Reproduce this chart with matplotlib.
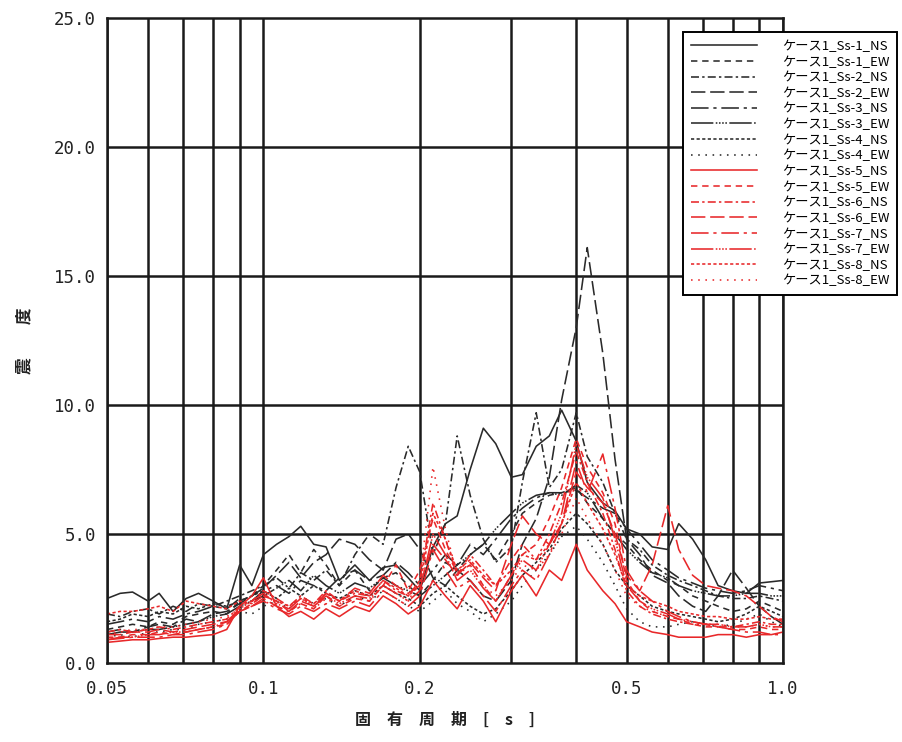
import matplotlib
matplotlib.use("Agg")
import matplotlib.pyplot as plt

plt.rcParams['font.family'] = ['Noto Sans CJK JP', 'DejaVu Sans']

periods = [0.050, 0.053, 0.056, 0.060, 0.063, 0.067, 0.071, 0.075, 0.080, 0.085,
           0.090, 0.095, 0.100, 0.106, 0.112, 0.118, 0.125, 0.132, 0.140, 0.150,
           0.160, 0.170, 0.180, 0.190, 0.200, 0.212, 0.224, 0.236, 0.250, 0.265,
           0.280, 0.300, 0.315, 0.335, 0.355, 0.375, 0.400, 0.420, 0.450, 0.475,
           0.500, 0.530, 0.560, 0.600, 0.630, 0.670, 0.710, 0.750, 0.800, 0.850,
           0.900, 0.950, 1.000]

ss1_ns = [2.5, 2.7, 2.75, 2.4, 2.7, 2.0, 2.5, 2.7, 2.4, 2.1, 3.8, 3.0, 4.2, 4.6, 4.9, 5.3, 4.6, 4.5, 3.2, 3.8,
          3.2, 3.7, 3.8, 3.3, 2.8, 4.5, 5.4, 5.7, 7.5, 9.1, 8.5, 7.2, 7.3, 8.4, 8.8, 9.8, 8.6, 7.0, 6.2, 5.9,
          5.2, 5.0, 4.5, 4.4, 5.4, 4.8, 4.0, 3.0, 2.8, 2.7, 3.1, 3.15, 3.2]
ss1_ew = [1.3, 1.4, 1.5, 1.4, 1.6, 1.5, 1.8, 1.9, 2.0, 1.9, 2.4, 2.6, 3.0, 3.6, 4.2, 3.5, 4.4, 3.8, 3.0, 3.6,
          2.8, 3.3, 3.5, 3.0, 2.6, 3.2, 3.9, 3.6, 4.2, 4.6, 4.0, 5.0, 5.8, 6.2, 6.5, 6.6, 6.8, 6.2, 5.6, 5.0,
          4.6, 4.0, 3.6, 3.2, 3.0, 2.6, 2.4, 2.2, 2.0, 2.1, 2.4, 2.2, 2.0]
ss2_ns = [1.9, 1.8, 2.0, 2.1, 1.9, 2.2, 2.0, 2.3, 2.2, 2.4, 2.6, 2.8, 3.0, 3.3, 2.9, 3.5, 3.2, 3.6, 3.0, 4.2,
          5.0, 4.6, 6.8, 8.4, 7.4, 4.2, 5.4, 8.8, 6.5, 4.8, 3.9, 4.5, 7.0, 9.7, 6.8, 7.5, 9.7, 8.0, 7.0, 5.8,
          4.8, 4.4, 3.8, 3.4, 3.2, 3.0, 2.8, 2.6, 2.5, 2.5, 2.6, 2.5, 2.4]
ss2_ew = [1.2, 1.3, 1.2, 1.4, 1.5, 1.4, 1.7, 1.6, 1.9, 2.0, 2.3, 2.6, 2.9, 3.4, 3.9, 3.3, 3.9, 4.2, 4.8, 4.6,
          4.0, 3.6, 4.8, 5.0, 4.4, 3.3, 3.0, 3.6, 3.2, 2.6, 2.4, 3.2, 4.6, 5.6, 7.2, 10.2, 13.0, 16.1, 12.0, 7.9,
          4.8, 4.2, 3.4, 3.1, 2.6, 2.2, 2.0, 2.6, 3.6, 2.9, 2.2, 1.8, 1.5]
ss3_ns = [1.5, 1.6, 1.7, 1.6, 1.8, 1.7, 1.9, 2.0, 2.2, 2.1, 2.5, 2.4, 2.8, 3.0, 2.7, 3.2, 3.0, 2.8, 3.3, 3.6,
          3.2, 3.4, 3.9, 3.5, 3.0, 3.6, 4.2, 3.8, 4.6, 4.2, 4.8, 5.6, 6.0, 6.4, 6.6, 6.6, 6.7, 6.4, 6.0, 5.8,
          5.2, 4.6, 4.0, 3.6, 3.3, 3.1, 2.9, 2.8, 2.7, 2.8, 3.0, 2.9, 2.8]
ss3_ew = [1.1, 1.2, 1.2, 1.3, 1.3, 1.4, 1.5, 1.6, 1.8, 1.9, 2.2, 2.4, 2.6, 2.9, 3.2, 2.8, 3.4, 3.0, 2.7, 3.1,
          2.9, 3.3, 3.0, 2.8, 2.6, 3.0, 3.4, 3.8, 4.2, 4.6, 5.2, 5.8, 6.2, 6.5, 6.6, 6.5, 6.9, 6.6, 5.6, 5.0,
          4.4, 3.9, 3.5, 3.3, 3.0, 2.8, 2.7, 2.6, 2.6, 2.7, 2.7, 2.6, 2.6]
ss4_ns = [1.6, 1.7, 1.9, 1.8, 2.0, 1.9, 2.2, 2.1, 2.3, 2.2, 2.4, 2.6, 2.8, 2.5, 2.9, 2.6, 3.0, 2.7, 2.5, 2.8,
          2.6, 3.0, 2.7, 2.5, 2.2, 2.7, 3.0, 2.6, 2.2, 1.9, 2.1, 2.8, 3.4, 3.9, 4.4, 5.2, 5.8, 5.4, 4.6, 3.6,
          3.0, 2.6, 2.2, 2.0, 1.9, 1.8, 1.7, 1.6, 1.7, 1.9, 2.2, 2.0, 1.8]
ss4_ew = [1.0, 1.1, 1.0, 1.2, 1.2, 1.3, 1.3, 1.5, 1.6, 1.7, 2.0, 1.9, 2.2, 2.4, 2.1, 2.6, 2.3, 2.5, 2.2, 2.6,
          2.4, 2.8, 2.5, 2.2, 2.0, 2.4, 2.8, 2.3, 2.0, 1.6, 1.9, 2.4, 3.0, 3.6, 4.2, 4.9, 5.3, 4.8, 3.9, 3.0,
          2.1, 1.6, 1.4, 1.4, 1.5, 1.6, 1.5, 1.4, 1.5, 1.7, 1.9, 1.6, 1.4]
ss5_ns = [0.8, 0.85, 0.9, 0.9, 0.95, 1.0, 1.0, 1.05, 1.1, 1.3, 2.2, 2.6, 3.3, 2.2, 1.8, 2.0, 1.7, 2.1, 1.8, 2.2,
          2.0, 2.6, 2.3, 1.9, 2.2, 3.2, 2.6, 2.1, 3.0, 2.4, 1.6, 2.8, 3.4, 2.6, 3.6, 3.2, 4.6, 3.6, 2.8, 2.3,
          1.6, 1.4, 1.2, 1.1, 1.0, 1.0, 1.0, 1.1, 1.1, 1.0, 1.1, 1.1, 1.2]
ss5_ew = [1.0, 1.0, 1.1, 1.1, 1.2, 1.1, 1.2, 1.3, 1.4, 1.5, 2.0, 2.3, 2.6, 2.4, 2.0, 2.3, 2.1, 2.6, 2.2, 2.5,
          2.4, 3.0, 3.8, 2.8, 3.6, 5.6, 4.4, 3.5, 3.8, 3.0, 2.4, 3.4, 4.2, 4.6, 5.6, 6.8, 8.7, 7.6, 6.6, 5.4,
          3.2, 2.4, 2.0, 1.8, 1.7, 1.5, 1.4, 1.4, 1.3, 1.3, 1.4, 1.3, 1.3]
ss6_ns = [1.2, 1.3, 1.2, 1.3, 1.4, 1.3, 1.4, 1.5, 1.6, 1.7, 2.2, 2.4, 2.8, 2.5, 2.2, 2.6, 2.3, 2.8, 2.4, 2.7,
          2.6, 3.2, 2.8, 2.6, 3.2, 6.2, 4.8, 3.4, 4.2, 3.6, 3.0, 4.0, 4.6, 4.0, 5.0, 6.2, 8.2, 7.0, 5.8, 4.4,
          2.8, 2.2, 1.9, 1.7, 1.6, 1.5, 1.5, 1.4, 1.4, 1.5, 1.6, 1.5, 1.5]
ss6_ew = [1.1, 1.1, 1.2, 1.2, 1.3, 1.2, 1.3, 1.4, 1.5, 1.6, 2.0, 2.2, 2.5, 2.2, 2.0, 2.4, 2.2, 2.7, 2.4, 2.9,
          2.7, 3.4, 3.0, 2.7, 3.0, 4.6, 4.0, 3.4, 3.9, 3.3, 2.8, 4.6, 5.7, 5.0, 4.6, 5.4, 7.4, 6.8, 6.2, 5.0,
          3.4, 2.8, 3.8, 6.1, 4.4, 3.4, 3.0, 2.9, 2.8, 2.6, 2.2, 1.8, 1.6]
ss7_ns = [0.9, 0.95, 1.0, 1.0, 1.0, 1.1, 1.1, 1.2, 1.3, 1.5, 2.0, 2.2, 2.4, 2.1, 1.9, 2.2, 2.0, 2.3, 2.1, 2.4,
          2.2, 2.8, 2.5, 2.2, 2.6, 4.4, 3.6, 2.9, 3.2, 2.6, 2.0, 3.0, 3.6, 3.2, 4.2, 5.4, 7.8, 6.6, 8.1, 6.0,
          3.6, 2.8, 2.4, 2.0, 1.8, 1.6, 1.5, 1.4, 1.3, 1.2, 1.2, 1.1, 1.1]
ss7_ew = [0.9, 1.0, 1.0, 1.1, 1.1, 1.2, 1.2, 1.3, 1.4, 1.6, 2.1, 2.4, 2.7, 2.3, 2.1, 2.5, 2.2, 2.6, 2.3, 2.6,
          2.5, 3.0, 2.7, 2.4, 2.8, 5.0, 4.2, 3.2, 3.6, 2.9, 2.4, 3.4, 4.0, 3.6, 4.6, 5.8, 8.5, 7.2, 6.4, 4.8,
          3.0, 2.4, 2.1, 1.9, 1.7, 1.6, 1.5, 1.5, 1.4, 1.4, 1.5, 1.4, 1.4]
ss8_ns = [1.9, 2.0, 2.0, 2.1, 2.2, 2.0, 2.4, 2.3, 2.2, 2.1, 2.4, 2.3, 2.6, 2.4, 2.2, 2.5, 2.3, 2.7, 2.4, 2.8,
          2.6, 3.2, 2.9, 2.6, 3.0, 5.8, 4.8, 3.6, 4.0, 3.4, 3.0, 3.6, 4.2, 4.0, 4.6, 5.4, 7.0, 6.2, 5.2, 4.2,
          3.0, 2.6, 2.4, 2.2, 2.0, 1.9, 1.8, 1.8, 1.7, 1.7, 1.8, 1.7, 1.7]
ss8_ew = [1.1, 1.2, 1.3, 1.3, 1.4, 1.4, 1.5, 1.6, 1.7, 1.8, 2.1, 2.2, 2.4, 2.2, 2.0, 2.3, 2.1, 2.5, 2.2, 2.6,
          2.4, 3.0, 2.7, 2.4, 3.2, 7.6, 5.2, 3.4, 3.8, 3.0, 2.6, 3.2, 3.8, 3.6, 4.2, 5.0, 6.4, 5.6, 4.6, 3.6,
          2.6, 2.2, 2.0, 1.8, 1.7, 1.6, 1.5, 1.5, 1.4, 1.4, 1.5, 1.4, 1.4]

labels = ["ケース1_Ss-1_NS", "ケース1_Ss-1_EW", "ケース1_Ss-2_NS", "ケース1_Ss-2_EW",
          "ケース1_Ss-3_NS", "ケース1_Ss-3_EW", "ケース1_Ss-4_NS", "ケース1_Ss-4_EW",
          "ケース1_Ss-5_NS", "ケース1_Ss-5_EW", "ケース1_Ss-6_NS", "ケース1_Ss-6_EW",
          "ケース1_Ss-7_NS", "ケース1_Ss-7_EW", "ケース1_Ss-8_NS", "ケース1_Ss-8_EW"]
series = [ss1_ns, ss1_ew, ss2_ns, ss2_ew, ss3_ns, ss3_ew, ss4_ns, ss4_ew,
          ss5_ns, ss5_ew, ss6_ns, ss6_ew, ss7_ns, ss7_ew, ss8_ns, ss8_ew]

styles = ['-', (0, (4, 3)), (0, (5, 2, 1.5, 2)), (0, (9, 3)),
          (0, (11, 3, 2, 3)), (0, (14, 1.5, 1, 1, 1, 1, 1, 1, 1, 1.5)),
          (0, (2, 1.5)), (0, (1, 3.5))]
black = '#2a2a2a'
red = '#e8282a'

fig = plt.figure(figsize=(9.03, 7.42), dpi=100)
ax = fig.add_axes([107/903, 1-663/742, (783-107)/903, (663-18)/742])

for i, (vals, lab) in enumerate(zip(series, labels)):
    col = black if i < 8 else red
    ax.plot(periods, vals, color=col, linestyle=styles[i % 8], linewidth=1.15, label=lab)

ax.set_xscale('log')
ax.set_xlim(0.05, 1.0)
ax.set_ylim(0, 25)

grid_x = [0.05, 0.06, 0.07, 0.08, 0.09, 0.1, 0.2, 0.3, 0.4, 0.5, 0.6, 0.7, 0.8, 0.9, 1.0]
for gx in grid_x:
    ax.axvline(gx, color='#1a1a1a', linewidth=1.8, zorder=0)
for gy in [5, 10, 15, 20]:
    ax.axhline(gy, color='#1a1a1a', linewidth=1.8, zorder=0)

xt = [0.05, 0.1, 0.2, 0.5, 1.0]
xtl = ["0.05", "0.1", "0.2", "0.5", "1.0"]
ax.set_xticks(xt)
ax.set_xticklabels(xtl)
ax.xaxis.set_minor_locator(matplotlib.ticker.NullLocator())
yt = [0, 5, 10, 15, 20, 25]
ax.set_yticks(yt)
ax.set_yticklabels(["0.0", "5.0", "10.0", "15.0", "20.0", "25.0"])
ax.tick_params(axis='y', length=0, labelsize=12.5, pad=8)
ax.tick_params(axis='x', length=0, labelsize=12.5, pad=12)
for lbl in ax.get_xticklabels() + ax.get_yticklabels():
    lbl.set_family(['DejaVu Sans Mono'])
    lbl.set_color('#222222')
for s in ax.spines.values():
    s.set_linewidth(1.8)
    s.set_color('#1a1a1a')

ax.set_xlabel("固　有　周　期　[\u3000s\u3000]", fontsize=11.5, labelpad=10, fontweight='bold', color='#222222')
ax.set_ylabel("震　　度", fontsize=12, fontweight='bold', color='#222222')
ax.yaxis.set_label_coords(-(107 - 33) / 676, 0.5)

leg = fig.legend(loc='upper left', bbox_to_anchor=(683/903, 1-32/742), borderaxespad=0,
                 fontsize=9.5, handlelength=5.0, handletextpad=1.9, labelspacing=0.2,
                 fancybox=False, edgecolor='black', framealpha=1, borderpad=0.6)
leg.get_frame().set_linewidth(1.4)

fig.savefig("out.png", dpi=100)
